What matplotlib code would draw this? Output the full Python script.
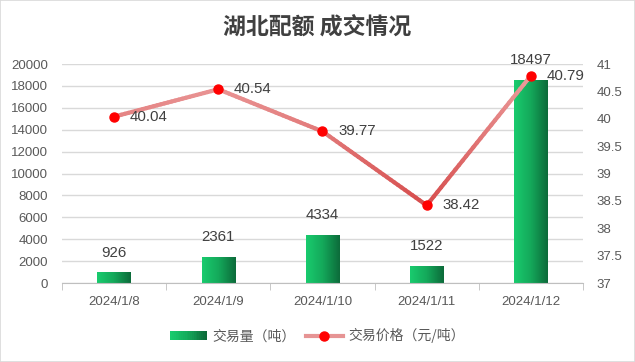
import matplotlib
matplotlib.use("Agg")
import matplotlib.pyplot as plt
import numpy as np
from matplotlib.collections import LineCollection
from matplotlib.patches import Rectangle
from matplotlib.lines import Line2D
from matplotlib.legend_handler import HandlerBase
from matplotlib.colors import LinearSegmentedColormap

plt.rcParams['font.family'] = ['Noto Sans CJK SC', 'DejaVu Sans']

categories = ["2024/1/8", "2024/1/9", "2024/1/10", "2024/1/11", "2024/1/12"]
volume = [926, 2361, 4334, 1522, 18497]
price = [40.04, 40.54, 39.77, 38.42, 40.79]
left_ticks = [0, 2000, 4000, 6000, 8000, 10000, 12000, 14000, 16000, 18000, 20000]
right_ticks = [37, 37.5, 38, 38.5, 39, 39.5, 40, 40.5, 41]
right_labels = ["37", "37.5", "38", "38.5", "39", "39.5", "40", "40.5", "41"]

bar_cmap = LinearSegmentedColormap.from_list("g", ["#19CB6E", "#14A85A", "#0C6B3A"])
line_cmap = LinearSegmentedColormap.from_list("r", ["#D64C4C", "#EB9C9C"])
tick_font = dict(family="Liberation Sans", size=9.5)
label_font = dict(family="Liberation Sans", size=10.8)

fig = plt.figure(figsize=(6.35, 3.62), dpi=100)
fig.patches.append(Rectangle((0, 0), 1, 1, transform=fig.transFigure,
                             fill=False, edgecolor="#D9D9D9", linewidth=1.2))
ax = fig.add_axes([0.0976, 0.218, 0.8205, 0.605])
x = np.arange(len(categories))
bw = 0.32
bars = ax.bar(x, volume, width=bw, color="none", zorder=2)
grad = np.linspace(0, 1, 64).reshape(1, -1)
for b in bars:
    x0, y0, w, h = b.get_x(), b.get_y(), b.get_width(), b.get_height()
    ax.imshow(grad, cmap=bar_cmap, aspect="auto", extent=(x0, x0 + w, y0, y0 + h),
              zorder=2, interpolation="bilinear")
ax.set_xlim(-0.5, len(categories) - 0.5)
ax.set_ylim(0, 20000)
ax.set_yticks(left_ticks)
ax.set_yticklabels([str(t) for t in left_ticks], fontdict=tick_font)
ax.yaxis.grid(True, color="#D9D9D9", linewidth=1)
ax.set_axisbelow(True)
for s in ["top", "right", "left"]:
    ax.spines[s].set_visible(False)
ax.spines["bottom"].set_color("#BFBFBF")
ax.tick_params(axis="y", length=0, labelcolor="#595959", pad=10)
ax.set_xticks(x)
ax.set_xticklabels(categories, fontdict=tick_font)
ax.tick_params(axis="x", length=0, labelcolor="#595959", pad=9)
ax.set_xticks(np.arange(-0.5, len(categories)), minor=True)
ax.tick_params(axis="x", which="minor", length=5, color="#BFBFBF", direction="out")
for xi, v in zip(x, volume):
    ax.text(xi, v + 1200, str(v), ha="center", va="bottom", color="#404040", zorder=3,
            fontdict=label_font)

ax2 = ax.twinx()
ax2.set_ylim(37, 41)
ax2.set_yticks(right_ticks)
ax2.set_yticklabels(right_labels, fontdict=tick_font)
for s in ["top", "right", "left", "bottom"]:
    ax2.spines[s].set_visible(False)
ax2.tick_params(axis="y", length=0, labelcolor="#595959", pad=10)

# line with vertical colour gradient (darker lower)
segs, cols = [], []
for i in range(len(price) - 1):
    xs = np.linspace(x[i], x[i + 1], 30)
    ys = np.linspace(price[i], price[i + 1], 30)
    for j in range(29):
        segs.append([(xs[j], ys[j]), (xs[j + 1], ys[j + 1])])
        ym = (ys[j] + ys[j + 1]) / 2
        cols.append(line_cmap((ym - 38.4) / (40.8 - 38.4)))
lc = LineCollection(segs, colors=cols, linewidths=3, capstyle="round", zorder=3)
ax2.add_collection(lc)
ax2.plot(x, price, linestyle="none", marker="o", markersize=6.5, color="#FF0000", zorder=4)
for xi, p in zip(x, price):
    ax2.text(xi + 0.15, p, f"{p:.2f}", ha="left", va="center", color="#404040", zorder=5,
             fontdict=label_font)

fig.text(0.5, 0.925, "湖北配额 成交情况", ha="center", va="center", fontsize=16.5,
         fontweight="bold", color="#404040")


class GradHandler(HandlerBase):
    def create_artists(self, legend, orig, xd, yd, width, height, fontsize, trans):
        arts = []
        n = 20
        for k in range(n):
            r = Rectangle((xd + width * k / n, yd), width / n + 0.3, height,
                          facecolor=bar_cmap(k / (n - 1)), edgecolor="none", transform=trans)
            arts.append(r)
        return arts


bar_handle = Rectangle((0, 0), 1, 1)
line_handle = Line2D([], [], color="#E69494", linewidth=3, marker="o", markersize=6.5,
                     markerfacecolor="#FF0000", markeredgecolor="#FF0000")
fig.legend([bar_handle, line_handle], ["交易量（吨）", "交易价格（元/吨）"],
           handler_map={Rectangle: GradHandler()},
           loc="center", bbox_to_anchor=(0.5, 0.072), ncol=2, frameon=False,
           fontsize=10, labelcolor="#595959", handlelength=2.6, handletextpad=0.4,
           columnspacing=0.8)

fig.savefig("out.png", dpi=100)
